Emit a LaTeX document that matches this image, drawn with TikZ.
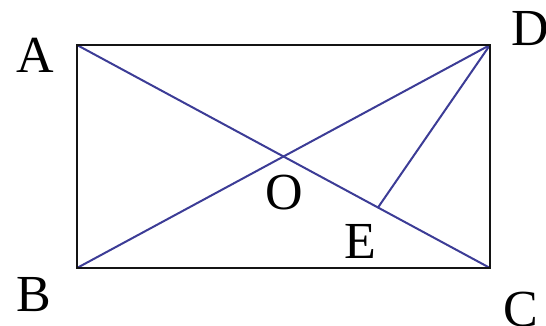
\documentclass[tikz,border=0pt]{standalone}
\usepackage{fontspec}
\setmainfont{Liberation Serif}
\begin{document}
\begin{tikzpicture}[x=1pt,y=-1pt,
  side/.style={draw={rgb,255:red,20;green,20;blue,20},line width=2.4pt},
  diag/.style={draw={rgb,255:red,60;green,60;blue,150},line width=2pt},
  lbl/.style={inner sep=0pt,font=\fontsize{52}{52}\selectfont}]
\useasboundingbox (0,0) rectangle (546,326);
\coordinate (A) at (77,45);
\coordinate (D) at (490,45);
\coordinate (B) at (77,268);
\coordinate (C) at (490,268);
\coordinate (O) at (283.5,156.5);
\coordinate (E) at (378,207.5);
\draw[diag] (A) -- (C);
\draw[diag] (B) -- (D);
\draw[diag] (D) -- (E);
\draw[side] (A) -- (D) -- (C) -- (B) -- cycle;
\node[lbl] (la) at (35,55) {A};
\node[lbl] (ld) at (530,29) {D};
\node[lbl] (lb) at (34,295) {B};
\node[lbl] (lc) at (521,310) {C};
\node[lbl] (lo) at (284,193) {O};
\node[lbl] (le) at (360,241) {E};
\end{tikzpicture}
\end{document}
